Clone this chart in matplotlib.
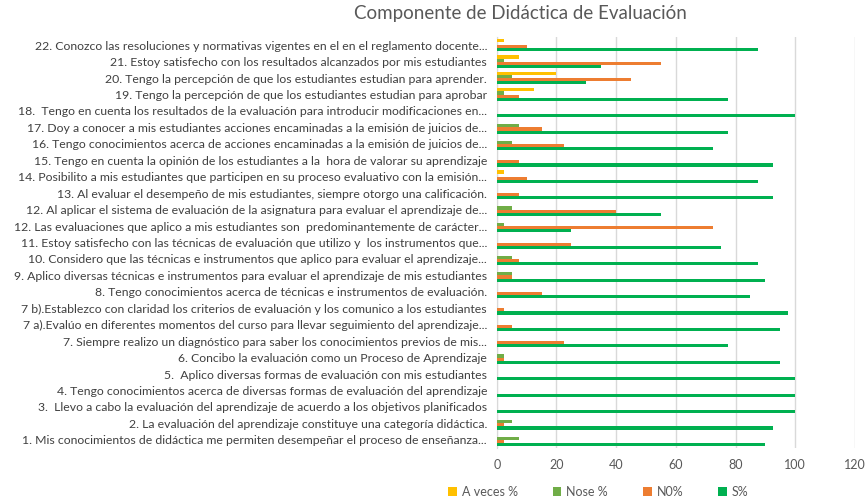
import matplotlib.pyplot as plt
import numpy as np

# categories, bottom to top
categories = [
    "1. Mis conocimientos de didáctica me permiten desempeñar el proceso de enseñanza...",
    "2. La evaluación del aprendizaje constituye una categoría didáctica.",
    "3.  Llevo a cabo la evaluación del aprendizaje de acuerdo a los objetivos planificados",
    "4. Tengo conocimientos acerca de diversas formas de evaluación del aprendizaje",
    "5.  Aplico diversas formas de evaluación con mis estudiantes",
    "6. Concibo la evaluación como un Proceso de Aprendizaje",
    "7. Siempre realizo un diagnóstico para saber los conocimientos previos de mis...",
    "7 a).Evalúo en diferentes momentos del curso para llevar seguimiento del aprendizaje...",
    "7 b).Establezco con claridad los criterios de evaluación y los comunico a los estudiantes",
    "8. Tengo conocimientos acerca de técnicas e instrumentos de evaluación.",
    "9. Aplico diversas técnicas e instrumentos para evaluar el aprendizaje de mis estudiantes",
    "10. Considero que las técnicas e instrumentos que aplico para evaluar el aprendizaje...",
    "11. Estoy satisfecho con las técnicas de evaluación que utilizo y  los instrumentos que...",
    "12. Las evaluaciones que aplico a mis estudiantes son  predominantemente de carácter...",
    "12. Al aplicar el sistema de evaluación de la asignatura para evaluar el aprendizaje de...",
    "13. Al evaluar el desempeño de mis estudiantes, siempre otorgo una calificación.",
    "14. Posibilito a mis estudiantes que participen en su proceso evaluativo con la emisión...",
    "15. Tengo en cuenta la opinión de los estudiantes a la  hora de valorar su aprendizaje",
    "16. Tengo conocimientos acerca de acciones encaminadas a la emisión de juicios de...",
    "17. Doy a conocer a mis estudiantes acciones encaminadas a la emisión de juicios de...",
    "18.  Tengo en cuenta los resultados de la evaluación para introducir modificaciones en...",
    "19. Tengo la percepción de que los estudiantes estudian para aprobar",
    "20. Tengo la percepción de que los estudiantes estudian para aprender.",
    "21. Estoy satisfecho con los resultados alcanzados por mis estudiantes",
    "22. Conozco las resoluciones y normativas vigentes en el en el reglamento docente...",
]

a_veces = [0, 0, 0, 0, 0, 0, 0, 0, 0, 0, 0, 0, 0, 0, 0, 0, 2.5, 0, 0, 0, 0, 12.5, 20, 7.5, 2.5]
nose = [7.5, 5, 0, 0, 0, 2.5, 0, 0, 0, 0, 5, 5, 0, 2.5, 5, 0, 0, 0, 5, 7.5, 0, 2.5, 5, 2.5, 0]
no = [2.5, 2.5, 0, 0, 0, 2.5, 22.5, 5, 2.5, 15, 5, 7.5, 25, 72.5, 40, 7.5, 10, 7.5, 22.5, 15, 0, 7.5, 45, 55, 10]
si = [90, 92.5, 100, 100, 100, 95, 77.5, 95, 97.5, 85, 90, 87.5, 75, 25, 55, 92.5, 87.5, 92.5, 72.5, 77.5, 100, 77.5, 30, 35, 87.5]

series = [
    ("A veces %", a_veces, "#FFC000"),
    ("Nose %", nose, "#70AD47"),
    ("N0%", no, "#ED7D31"),
    ("S%", si, "#00B050"),
]

plt.rcParams["font.family"] = ["Lato", "DejaVu Sans"]

fig = plt.figure(figsize=(8.67, 5), dpi=100)
ax = fig.add_axes([0.573, 0.104, 0.413, 0.822])

y = np.arange(len(categories))
h = 0.19
offsets = [1.5 * h, 0.5 * h, -0.5 * h, -1.5 * h]
for (label, vals, color), off in zip(series, offsets):
    ax.barh(y + off, vals, height=h, color=color, label=label, zorder=3)

ax.set_xlim(0, 120)
ax.set_ylim(-0.5, len(categories) - 0.5)
ax.set_xticks(np.arange(0, 121, 20))
ax.set_yticks(y)
ax.set_yticklabels(categories, fontsize=8.8, color="#404040")
ax.tick_params(axis="x", labelsize=9, colors="#595959", length=0, pad=8)
ax.tick_params(axis="y", length=0, pad=7)
ax.grid(axis="x", color="#D9D9D9", linewidth=1, zorder=0)
for side in ["top", "right", "bottom"]:
    ax.spines[side].set_visible(False)
ax.spines["left"].set_color("#D9D9D9")

fig.suptitle("Componente de Didáctica de Evaluación", x=0.6, y=0.99,
             fontsize=13.5, color="#595959")

handles, labels = ax.get_legend_handles_labels()
fig.legend(handles, labels, loc="lower center", bbox_to_anchor=(0.69, -0.018), ncol=4,
           frameon=False, fontsize=9, handlelength=0.7, handleheight=0.7,
           columnspacing=2.8, handletextpad=0.4, labelcolor="#595959")

fig.savefig("out.png", dpi=100)
